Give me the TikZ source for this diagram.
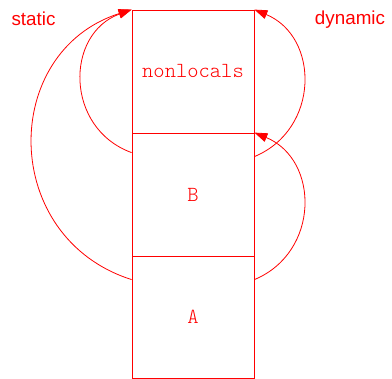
\documentclass[tikz,border=0pt]{standalone}
\usepackage{fontspec}
\setmainfont{Liberation Sans}
\newfontfamily\lighttt{Latin Modern Mono Light}
\usetikzlibrary{arrows.meta}
\begin{document}
\begin{tikzpicture}[x=1pt,y=-1pt, line width=0.8pt,
  frame/.style={draw=red, minimum width=122pt, minimum height=123pt, inner sep=0pt,
    font=\fontsize{21.5}{21.5}\selectfont\lighttt, text=red},
  side/.style={font=\fontsize{18.8}{19}\selectfont, text=red, anchor=base},
  link/.style={draw=red, -{Triangle[length=13pt,width=9pt]}}]
\useasboundingbox (0,0) rectangle (392,379);
\node[frame] (N) at (193,71.5) {nonlocals};
\node[frame] (B) at (193,194.5) {B};
\node[frame, minimum height=122pt] (A) at (193,317) {A};
\node[side] (st) at (33.5,26) {static};
\node[side] (dy) at (350,25) {dynamic};
% static links
\draw[link] ([yshift=-24pt]A.north west) .. controls +(-132,-42) and +(-132,42) .. (N.north west);
\draw[link] ([yshift=-20pt]B.north west) .. controls +(-66.8,-24.3) and +(-66.8,24.3) .. (N.north west);
% dynamic links
\draw[link] ([yshift=-24pt]B.north east) .. controls +(65.4,-27.2) and +(65.4,27.2) .. (N.north east);
\draw[link] ([yshift=-24pt]A.north east) .. controls +(65.4,-27.2) and +(65.4,27.2) .. (B.north east);
\end{tikzpicture}
\end{document}
